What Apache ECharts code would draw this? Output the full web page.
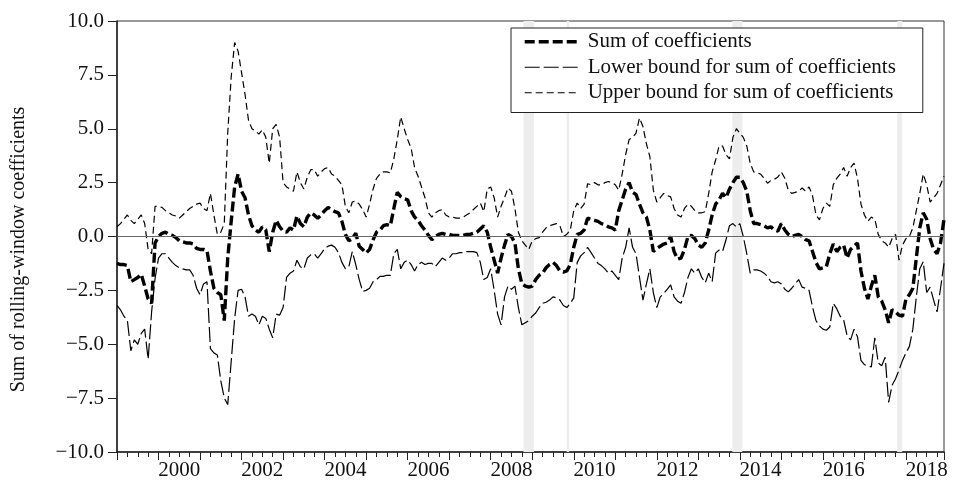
<!DOCTYPE html>
<html>
<head>
<meta charset="utf-8">
<script src="https://cdn.jsdelivr.net/npm/echarts@6/dist/echarts.min.js"></script>
<style>
html,body{margin:0;padding:0;background:#fff;}
#chart{width:954px;height:486px;}
</style>
</head>
<body>
<div id="chart"></div>
<script>
// monthly observations, Jan 1999 .. Dec 2018
const startYear = 1999;
const monthCount = 240;
const months = [];
for (let i = 0; i < monthCount; i++) months.push(startYear + i / 12);

const sumValues = [
-1.25,-1.3,-1.3,-1.35,-2.1,-2.0,-1.9,-1.75,-2.3,-2.9,
-3.1,-0.3,0.0,0.15,0.2,0.1,0.05,-0.05,-0.2,-0.25,
-0.3,-0.3,-0.35,-0.55,-0.6,-0.6,-0.65,-1.6,-2.4,-2.6,
-2.7,-3.9,-1.0,0.7,2.3,2.9,2.1,1.8,1.0,0.5,
0.3,0.2,0.45,0.3,-0.7,0.2,0.75,0.45,0.25,0.2,
0.4,0.3,0.95,0.6,0.45,0.9,1.1,1.0,0.85,1.0,
1.2,1.35,1.25,1.15,1.1,0.7,0.1,-0.2,-0.1,0.15,
-0.45,-0.6,-0.77,-0.6,-0.15,0.2,0.3,0.5,0.55,0.5,
1.3,2.05,1.85,1.75,1.7,1.2,0.9,0.75,0.5,0.3,
0.05,-0.15,0.0,0.1,0.15,0.1,0.1,0.05,0.05,0.05,
0.05,0.1,0.1,0.15,0.2,0.35,0.5,0.2,-0.5,-1.1,
-1.7,-1.0,-0.4,0.1,0.0,-0.3,-1.5,-2.2,-2.3,-2.35,
-2.3,-2.0,-1.8,-1.7,-1.45,-1.3,-1.2,-1.35,-1.6,-1.65,
-1.6,-1.3,-0.5,0.1,0.15,0.3,0.85,0.8,0.75,0.7,
0.6,0.55,0.45,0.4,0.3,1.2,1.7,2.2,2.5,2.05,
1.95,1.5,1.1,0.9,0.3,-0.7,-0.55,-0.45,-0.35,-0.3,
0.0,-0.7,-1.05,-1.0,-0.6,0.0,0.05,-0.1,-0.4,-0.5,
-0.3,0.3,1.0,1.5,1.7,2.0,1.8,2.2,2.5,2.75,
2.75,2.5,2.1,1.2,0.6,0.6,0.55,0.5,0.4,0.45,
0.3,0.25,0.6,0.3,0.1,0.0,0.05,0.1,0.0,-0.15,
-0.2,-0.7,-1.2,-1.5,-1.45,-1.4,-0.8,-0.35,-0.7,-0.5,
-0.4,-1.0,-0.6,-0.45,-0.3,-1.6,-2.4,-2.9,-2.3,-1.8,
-2.8,-3.0,-3.4,-4.0,-3.4,-3.5,-3.65,-3.7,-2.9,-2.7,
-2.4,-1.0,0.4,1.1,0.8,-0.1,-0.6,-0.8,-0.3,0.8
];

const lowerValues = [
-3.2,-3.4,-3.7,-3.9,-5.3,-4.8,-5.0,-4.5,-4.3,-5.7,
-3.5,-1.95,-1.0,-0.8,-0.8,-1.0,-1.2,-1.35,-1.45,-1.5,
-1.55,-1.55,-1.8,-2.4,-2.7,-2.2,-2.1,-5.2,-5.4,-5.5,
-6.7,-7.5,-7.8,-5.8,-3.8,-2.5,-2.45,-2.8,-3.7,-3.6,
-3.7,-4.1,-3.7,-3.8,-4.3,-4.7,-3.6,-3.65,-3.3,-1.9,
-1.7,-1.6,-1.1,-1.4,-1.5,-1.0,-0.85,-0.8,-1.0,-0.8,
-0.55,-0.45,-0.4,-0.5,-0.75,-1.2,-1.5,-1.4,-0.7,-1.3,
-2.0,-2.55,-2.5,-2.4,-2.1,-2.0,-1.85,-1.85,-1.8,-1.8,
-0.8,-0.6,-1.5,-1.2,-1.1,-1.3,-1.6,-1.3,-1.2,-1.3,
-1.25,-1.25,-1.4,-1.2,-1.0,-1.1,-1.0,-0.8,-0.8,-0.75,
-0.75,-0.7,-0.7,-0.7,-0.75,-1.2,-2.0,-1.9,-1.5,-2.5,
-3.6,-4.1,-2.8,-2.3,-2.45,-2.3,-3.3,-4.1,-4.0,-3.9,
-3.7,-3.55,-3.3,-3.1,-3.05,-2.95,-2.8,-2.85,-2.95,-3.2,
-3.3,-3.1,-2.85,-1.2,-0.9,-0.75,-0.5,-0.75,-1.0,-1.25,
-1.35,-1.5,-1.7,-1.6,-1.8,-2.0,-1.0,-0.5,0.4,-0.5,
-0.8,-1.9,-2.95,-2.2,-1.5,-2.6,-3.3,-2.8,-2.65,-2.45,
-2.25,-2.8,-3.0,-3.1,-2.6,-1.9,-1.5,-1.7,-1.5,-1.9,
-2.15,-1.7,-2.1,-0.77,-0.63,-0.7,-0.15,0.5,0.6,0.44,
0.6,0.0,-0.8,-1.7,-1.55,-1.55,-1.6,-1.7,-1.85,-2.1,
-2.15,-2.1,-2.2,-2.45,-2.57,-2.4,-2.2,-2.0,-2.35,-2.4,
-2.5,-3.27,-3.9,-4.15,-4.3,-4.35,-4.2,-3.1,-3.35,-3.7,
-3.87,-4.6,-4.8,-4.3,-4.65,-5.75,-5.95,-6.0,-6.05,-4.7,
-5.87,-6.0,-5.6,-7.7,-6.9,-6.6,-6.2,-5.75,-5.4,-5.1,
-4.3,-2.8,-1.5,-1.17,-2.6,-2.35,-2.95,-3.5,-2.4,-1.25
];

const upperValues = [
0.45,0.6,0.8,1.0,0.75,0.6,0.8,1.0,0.6,-0.6,
-0.8,1.4,1.4,1.35,1.2,1.1,1.0,0.95,0.85,1.0,
1.15,1.3,1.4,1.5,1.55,1.3,1.2,2.0,1.0,0.1,
0.2,0.6,4.8,7.4,9.0,8.6,7.6,6.6,5.4,5.0,
4.9,4.75,4.95,4.6,3.4,5.0,5.2,4.6,2.5,2.3,
2.2,2.1,3.0,2.5,2.2,2.76,3.1,3.1,2.8,3.0,
3.15,3.2,2.9,2.8,2.6,2.4,1.4,1.1,1.6,1.65,
1.5,1.25,0.9,1.5,2.2,2.7,2.9,3.0,3.0,2.95,
3.6,4.5,5.55,5.0,4.5,4.1,3.2,2.8,2.3,1.8,
1.1,0.9,1.1,1.2,1.25,1.0,0.9,0.9,0.85,0.85,
0.9,1.0,1.1,1.25,1.4,1.55,1.15,2.2,2.3,1.8,
0.9,1.4,1.8,2.25,2.1,1.3,0.2,-0.2,-0.4,-0.6,
-0.2,-0.1,-0.05,0.2,0.4,0.5,0.55,0.6,0.5,0.0,
0.1,0.3,1.2,1.55,1.3,1.5,2.45,2.4,2.5,2.4,
2.4,2.5,2.55,2.5,2.4,2.15,2.9,3.8,4.5,4.6,
4.8,5.5,5.1,4.3,3.7,2.15,1.6,1.8,2.0,1.9,
1.84,1.3,1.0,0.9,1.3,1.5,1.4,1.2,1.1,1.1,
1.15,2.0,3.0,3.55,4.2,4.2,3.8,3.6,4.6,5.0,
4.8,4.6,4.2,3.4,3.0,2.95,2.9,2.7,2.47,2.6,
2.65,2.76,3.0,2.7,2.15,2.0,2.05,2.1,2.25,2.1,
2.3,1.9,1.0,0.77,1.3,1.55,1.4,2.4,2.7,2.9,
3.2,2.8,3.2,3.4,2.7,1.5,1.0,0.7,0.9,0.8,
0.1,-0.2,-0.3,-0.5,-0.1,0.1,-1.1,-0.4,-0.1,0.0,
0.4,1.2,2.0,2.9,2.4,1.6,1.8,2.0,2.4,2.8
];

// shaded periods (decimal years)
const bandStarts = [2008.79, 2009.83, 2013.82, 2017.79];
const bandEnds   = [2009.04, 2009.89, 2014.06, 2017.91];

// year labels (centred on the year)
const yearLabels = [2000, 2002, 2004, 2006, 2008, 2010, 2012, 2014, 2016, 2018];

const seriesNames = [
  'Sum of coefficients',
  'Lower bound for sum of coefficients',
  'Upper bound for sum of coefficients'
];

const FONT = 'Liberation Serif';
const pair = vals => vals.map((v, i) => [months[i], v]);

const styles = [
  { color: '#000', width: 3.4, type: [10, 4] },
  { color: '#000', width: 1.2, type: [15, 4] },
  { color: '#000', width: 1.2, type: [7, 4] }
];

const chart = echarts.init(document.getElementById('chart'));
chart.setOption({
  backgroundColor: '#fff',
  animation: false,
  color: ['#000', '#000', '#000', '#000'],
  grid: {
    left: 117, right: 10, top: 21, bottom: 34,
    show: true, borderColor: '#333', borderWidth: 1, backgroundColor: 'transparent'
  },
  legend: {
    orient: 'vertical',
    left: 511, top: 28,
    data: seriesNames.map((n, i) => ({
      name: n,
      itemStyle: { color: 'transparent', borderWidth: 0, opacity: 0 },
      lineStyle: Object.assign({}, styles[i])
    })),
    itemWidth: 55, itemHeight: 12, itemGap: 4,
    textStyle: { fontFamily: FONT, fontSize: 21, color: '#111', lineHeight: 21.5, padding: [0, 0, 0, 3] },
    borderColor: '#222', borderWidth: 1, backgroundColor: '#fff',
    padding: [3, 27, 9, 12],
    selectedMode: false,
    z: 10
  },
  xAxis: {
    type: 'value',
    min: startYear,
    max: months[monthCount - 1],
    interval: 1,
    axisLine: { show: true, onZero: false, lineStyle: { color: '#222', width: 1.5 } },
    axisTick: { show: true, length: 8, lineStyle: { color: '#222', width: 1 } },
    minorTick: { show: true, splitNumber: 4, length: 5, lineStyle: { color: '#222', width: 1 } },
    splitLine: { show: false },
    axisLabel: {
      customValues: yearLabels.map(y => y + 0.5),
      formatter: v => String(Math.floor(v)),
      fontFamily: FONT, fontSize: 21, color: '#111', margin: 8
    }
  },
  yAxis: {
    type: 'value',
    min: -10, max: 10, interval: 2.5,
    axisLine: { show: true, lineStyle: { color: '#222', width: 1.5 } },
    axisTick: { show: true, length: 9, lineStyle: { color: '#222', width: 1 } },
    splitLine: { show: false },
    axisLabel: {
      formatter: v => v.toFixed(1).replace('-', '\u2212'),
      fontFamily: FONT, fontSize: 21, color: '#111', margin: 13
    },
    name: 'Sum of rolling-window coefficients',
    nameLocation: 'middle',
    nameGap: 88,
    nameTextStyle: { fontFamily: FONT, fontSize: 20, color: '#111', padding: [0, 26, 0, 0] }
  },
  series: [
    {
      name: 'bands', type: 'line', data: [], z: 1, silent: true,
      markArea: {
        silent: true,
        itemStyle: { color: '#ededed' },
        data: bandStarts.map((s, i) => [{ xAxis: s }, { xAxis: bandEnds[i] }])
      },
      markLine: {
        silent: true, symbol: 'none',
        label: { show: false },
        lineStyle: { color: '#666', width: 1, type: 'solid' },
        data: [{ yAxis: 0 }]
      }
    },
    {
      name: seriesNames[0], type: 'line', z: 4,
      data: pair(sumValues), showSymbol: false, symbol: 'none',
      itemStyle: { color: '#000' },
      lineStyle: styles[0]
    },
    {
      name: seriesNames[1], type: 'line', z: 3,
      data: pair(lowerValues), showSymbol: false, symbol: 'none',
      itemStyle: { color: '#000' },
      lineStyle: styles[1]
    },
    {
      name: seriesNames[2], type: 'line', z: 3,
      data: pair(upperValues), showSymbol: false, symbol: 'none',
      itemStyle: { color: '#000' },
      lineStyle: styles[2]
    }
  ]
});
</script>
</body>
</html>
